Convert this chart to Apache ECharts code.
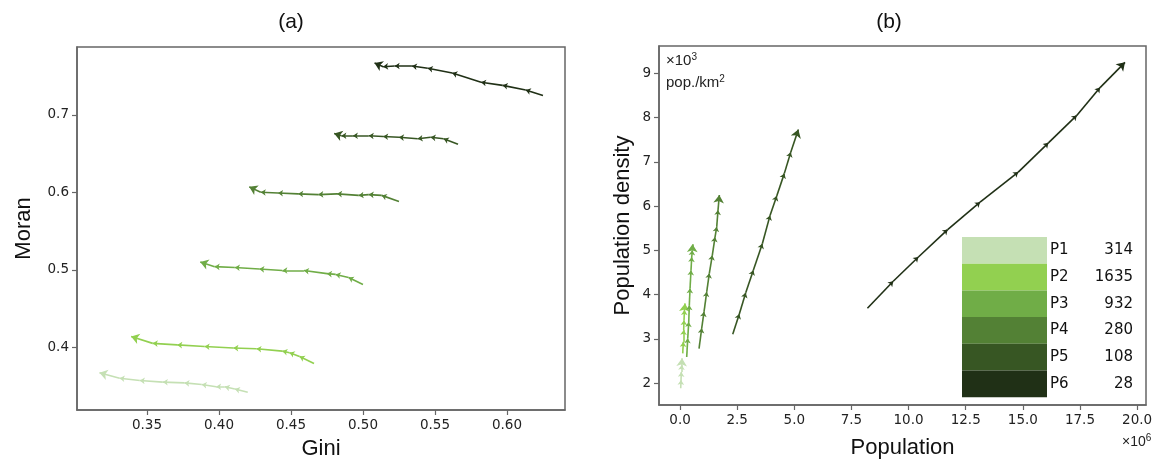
<!DOCTYPE html>
<html>
<head>
<meta charset="utf-8">
<script src="https://cdn.jsdelivr.net/npm/echarts@6/dist/echarts.min.js"></script>
<style>
  html, body { margin: 0; padding: 0; background: #fff; }
  #root { width: 1165px; height: 465px; }
</style>
</head>
<body>
<div id="root"></div>
<script>
// groups, colours and counts
const groups = ['P1', 'P2', 'P3', 'P4', 'P5', 'P6'];
const counts = [314, 1635, 932, 280, 108, 28];
const colors = ['#c5e0b4', '#92d050', '#70ad47', '#538135', '#375623', '#203016'];

// (a) Gini / Moran trajectories, one list per group (ends at arrow head)
const gini = [
  [0.420, 0.411, 0.404, 0.398, 0.388, 0.376, 0.361, 0.345, 0.331, 0.317],
  [0.466, 0.456, 0.449, 0.444, 0.426, 0.410, 0.390, 0.371, 0.354, 0.339],
  [0.500, 0.490, 0.481, 0.475, 0.459, 0.444, 0.428, 0.411, 0.397, 0.387],
  [0.525, 0.513, 0.504, 0.497, 0.482, 0.469, 0.455, 0.441, 0.429, 0.421],
  [0.566, 0.556, 0.547, 0.538, 0.525, 0.514, 0.504, 0.493, 0.485, 0.480],
  [0.625, 0.613, 0.597, 0.582, 0.562, 0.545, 0.534, 0.522, 0.514, 0.508]
];
const moran = [
  [0.342, 0.346, 0.349, 0.349, 0.352, 0.354, 0.355, 0.357, 0.360, 0.367],
  [0.379, 0.388, 0.393, 0.395, 0.398, 0.399, 0.401, 0.403, 0.405, 0.414],
  [0.481, 0.490, 0.494, 0.495, 0.499, 0.499, 0.501, 0.503, 0.504, 0.510],
  [0.588, 0.596, 0.597, 0.596, 0.598, 0.597, 0.598, 0.599, 0.600, 0.607],
  [0.662, 0.669, 0.671, 0.669, 0.671, 0.672, 0.673, 0.673, 0.673, 0.676],
  [0.725, 0.732, 0.738, 0.742, 0.754, 0.760, 0.763, 0.763, 0.762, 0.767]
];

// (b) population (x10^6) / density (x10^3 pop./km2)
const population = [
  [0.030, 0.044, 0.057, 0.074, 0.088],
  [0.118, 0.144, 0.160, 0.175, 0.195, 0.219],
  [0.293, 0.337, 0.381, 0.407, 0.438, 0.481, 0.512, 0.538, 0.545],
  [0.832, 0.950, 1.050, 1.168, 1.282, 1.414, 1.532, 1.606, 1.663, 1.720],
  [2.306, 2.595, 2.875, 3.208, 3.602, 3.939, 4.232, 4.565, 4.845, 5.178],
  [8.20, 9.33, 10.43, 11.71, 13.13, 14.80, 16.12, 17.36, 18.38, 19.47]
];
const density = [
  [1.88, 2.07, 2.25, 2.41, 2.56],
  [2.67, 2.93, 3.20, 3.42, 3.65, 3.80],
  [2.59, 3.01, 3.38, 3.76, 4.14, 4.55, 4.85, 5.00, 5.14],
  [2.78, 3.24, 3.61, 4.06, 4.48, 4.89, 5.30, 5.53, 5.91, 6.25],
  [3.10, 3.56, 4.04, 4.55, 5.15, 5.79, 6.23, 6.74, 7.22, 7.73],
  [3.69, 4.30, 4.85, 5.47, 6.09, 6.77, 7.43, 8.05, 8.68, 9.25]
];

const giniTicks = [0.35, 0.40, 0.45, 0.50, 0.55, 0.60];
const moranTicks = [0.4, 0.5, 0.6, 0.7];
const popTicks = [0.0, 2.5, 5.0, 7.5, 10.0, 12.5, 15.0, 17.5, 20.0];
const densTicks = [2, 3, 4, 5, 6, 7, 8, 9];

const spine = '#666';
const tickFont = { fontFamily: 'DejaVu Sans', fontSize: 13.5, color: '#222' };
const nameFont = { fontFamily: 'Liberation Sans', fontSize: 22, color: '#111' };

function axis(gridIndex, min, max, ticks, digits, name, gap) {
  return {
    type: 'value', gridIndex, min, max,
    name, nameLocation: 'middle', nameGap: gap, nameTextStyle: nameFont,
    splitLine: { show: false },
    axisLine: { show: true, onZero: false, lineStyle: { color: spine, width: 1.5 } },
    axisTick: { show: true, customValues: ticks, length: 5, lineStyle: { color: spine, width: 1.2 } },
    axisLabel: {
      customValues: ticks, margin: 8, ...tickFont,
      formatter: v => digits == null ? String(v) : v.toFixed(digits)
    }
  };
}

// each trajectory -> segment list, arrow head at each step end
function segments(xs, ys) {
  const out = [];
  for (let i = 0; i < xs.length - 1; i++) {
    out.push({ coords: [[xs[i], ys[i]], [xs[i + 1], ys[i + 1]]] });
  }
  return out;
}

const series = [];
[[gini, moran, 0], [population, density, 1]].forEach(([X, Y, g]) => {
  X.forEach((xs, k) => {
    const segs = segments(xs, Y[k]);
    series.push({
      type: 'lines', coordinateSystem: 'cartesian2d',
      xAxisIndex: g, yAxisIndex: g, silent: true, z: 2 + k,
      symbol: ['none', 'arrow'], symbolSize: 5,
      lineStyle: { color: colors[k], width: 1.6, opacity: 1 },
      data: segs.slice(0, -1)
    });
    series.push({
      type: 'lines', coordinateSystem: 'cartesian2d',
      xAxisIndex: g, yAxisIndex: g, silent: true, z: 2 + k,
      symbol: ['none', 'arrow'], symbolSize: 8,
      lineStyle: { color: colors[k], width: 1.6, opacity: 1 },
      data: segs.slice(-1)
    });
  });
});

// legend table inside panel (b)
const legendItems = [];
groups.forEach((g, i) => {
  const top = 237 + i * 26.7;
  legendItems.push({
    type: 'rect', shape: { x: 962, y: top, width: 85, height: 26.7 },
    style: { fill: colors[i] }, z: 10
  });
  legendItems.push({
    type: 'text', x: 1050, y: top + 13.3, z: 10,
    style: { text: g, fontFamily: 'DejaVu Sans', fontSize: 15, fill: '#111', verticalAlign: 'middle' }
  });
  legendItems.push({
    type: 'text', x: 1133, y: top + 13.3, z: 10,
    style: { text: String(counts[i]), fontFamily: 'DejaVu Sans', fontSize: 15, fill: '#111', align: 'right', verticalAlign: 'middle' }
  });
});

const chart = echarts.init(document.getElementById('root'), null, { renderer: 'canvas' });
chart.setOption({
  animation: false,
  backgroundColor: '#fff',
  title: [
    { text: '(a)', left: 286, top: 7, textAlign: 'center', textStyle: { fontFamily: 'Liberation Sans', fontSize: 21, fontWeight: 'normal', color: '#111' } },
    { text: '(b)', left: 884, top: 7, textAlign: 'center', textStyle: { fontFamily: 'Liberation Sans', fontSize: 21, fontWeight: 'normal', color: '#111' } }
  ],
  grid: [
    { left: 77, top: 47, width: 488, height: 364, show: true, borderColor: spine, borderWidth: 1.5 },
    { left: 659, top: 46, width: 487, height: 359, show: true, borderColor: spine, borderWidth: 1.5 }
  ],
  xAxis: [
    axis(0, 0.3014, 0.6403, giniTicks, 2, 'Gini', 28),
    axis(1, -0.92, 20.39, popTicks, 1, 'Population', 32)
  ],
  yAxis: [
    axis(0, 0.319, 0.7875, moranTicks, 1, 'Moran', 42),
    axis(1, 1.503, 9.62, densTicks, null, 'Population density', 25)
  ],
  graphic: legendItems.concat([
    {
      type: 'text', x: 1122, y: 433, z: 10,
      style: {
        text: '×10{s|6}', fontFamily: 'Liberation Sans', fontSize: 14, fill: '#222',
        rich: { s: { fontSize: 10, padding: [0, 0, 8, 0], fontFamily: 'Liberation Sans' } }
      }
    },
    {
      type: 'text', x: 666, y: 52, z: 10,
      style: {
        text: '×10{s|3}', fontFamily: 'Liberation Sans', fontSize: 15, fill: '#222',
        rich: { s: { fontSize: 10, padding: [0, 0, 8, 0], fontFamily: 'Liberation Sans' } }
      }
    },
    {
      type: 'text', x: 666, y: 74, z: 10,
      style: {
        text: 'pop./km{s|2}', fontFamily: 'Liberation Sans', fontSize: 15, fill: '#222',
        rich: { s: { fontSize: 10, padding: [0, 0, 8, 0], fontFamily: 'Liberation Sans' } }
      }
    }
  ]),
  series
});
</script>
</body>
</html>
